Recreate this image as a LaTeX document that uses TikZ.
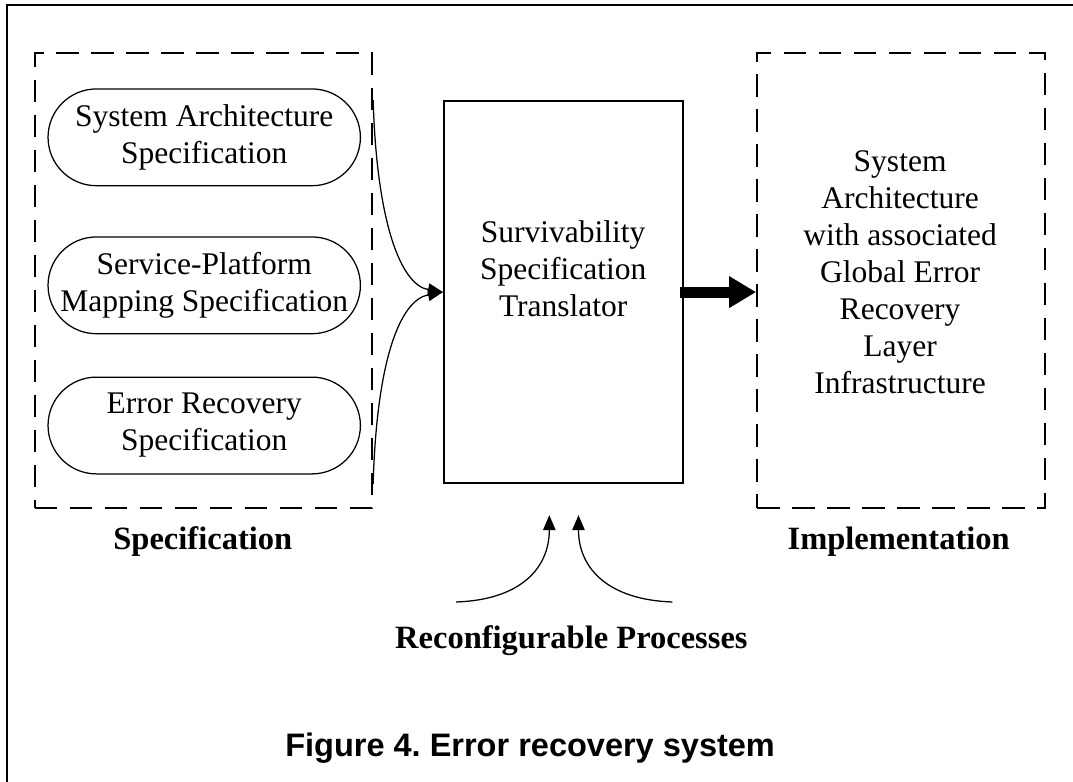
\documentclass[tikz,border=0pt]{standalone}
\usepackage{fontspec}
\setmainfont{Liberation Serif}
\newfontfamily\capfont{Liberation Sans}
\usetikzlibrary{arrows.meta,positioning}
\frenchspacing

\tikzset{
  groupbox/.style={draw, line width=0.8pt, dash pattern=on 9pt off 5pt, minimum width=4.74cm, minimum height=6.39cm},
  specoval/.style={draw, line width=0.5pt, rounded corners=0.68cm, minimum width=4.39cm, minimum height=1.36cm, align=center, inner sep=0pt, font=\fontsize{12.6}{14.8}\selectfont},
  body/.style={align=center, font=\fontsize{12.6}{14.8}\selectfont},
  lbl/.style={font=\fontsize{13}{15}\selectfont\bfseries},
  feed/.style={line width=0.5pt, -{Triangle[length=6pt,width=5pt]}}
}

\begin{document}
\begin{tikzpicture}
        \useasboundingbox (0,0) rectangle (15.08,-10.99);

        % Frame
        \draw[line width=0.8pt] (0.10,-10.99) -- (0.10,-0.07) -- (15.08,-0.07);

        % Specification
        \node[groupbox] (spec) at (2.86,-3.945) {};
        \node[specoval] (arch) at (2.87,-1.93) {System Architecture\\Specification};
        \node[specoval] (map) at (2.87,-4.01) {Service-Platform\\Mapping Specification};
        \node[specoval] (err) at (2.87,-5.98) {Error Recovery\\Specification};

        % Translator
        \node[draw, line width=0.8pt, minimum width=3.36cm, minimum height=5.37cm] (trans) at (7.92,-4.105) {};
        \node[body] (transtext) at (7.915,-3.78) {Survivability\\Specification\\Translator};

        % Implementation
        \node[groupbox, minimum width=4.04cm] (impl) at (12.66,-3.945) {};
        \node[body] (impltext) at (12.65,-3.82) {System\\Architecture\\with associated\\Global Error\\Recovery\\Layer\\Infrastructure};

        % Inputs
        \draw[feed] (spec.east |- trans.north) .. controls +(0.05,-1.7) and +(-0.6,0.1) .. (trans.west);
        \draw[feed] (spec.east |- trans.south) .. controls +(0.05,1.76) and +(-0.6,-0.11) .. (trans.west);

        % Output
        \draw[line width=4.4pt, -{Triangle[length=10.8pt,width=12pt]}] ([xshift=-1.5pt]trans.east) -- (trans.east -| impl.west);

        % Reconfigurable processes
        \coordinate (rp1) at (6.41,-8.46);
        \coordinate (rp2) at (9.45,-8.46);
        \coordinate (tip1) at (7.72,-7.24);
        \coordinate (tip2) at (8.13,-7.24);
        \draw[feed] (rp1) .. controls +(0.9,0.03) and +(0,-0.75) .. (tip1);
        \draw[feed] (rp2) .. controls +(-0.9,0.03) and +(0,-0.75) .. (tip2);

        % Labels
        \node[lbl] (speclbl) at (2.85,-7.61) {Specification};
        \node[lbl] (impllbl) at (12.63,-7.61) {Implementation};
        \node[lbl] (rplbl) at (8.03,-9.01) {Reconfigurable Processes};
        \node[font=\capfont\fontsize{13}{15}\selectfont\bfseries] (cap) at (7.45,-10.52) {Figure 4. Error recovery system};
\end{tikzpicture}
\end{document}
